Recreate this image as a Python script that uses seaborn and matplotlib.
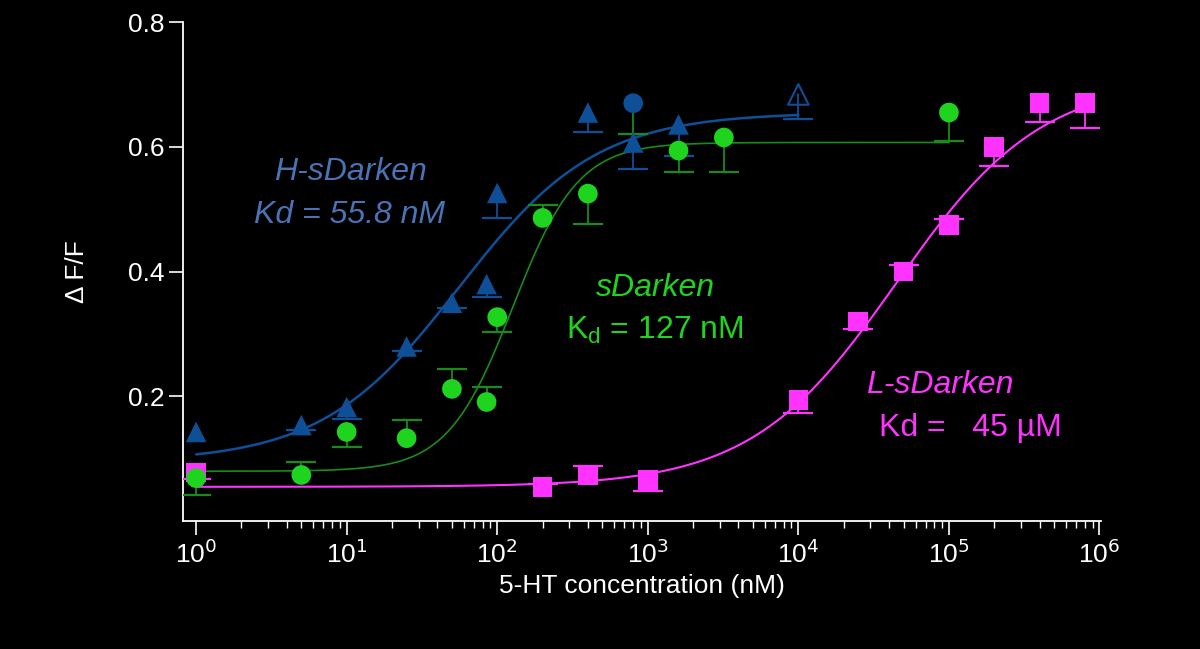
import numpy as np
import pandas as pd
import matplotlib
matplotlib.use("Agg")
import matplotlib.pyplot as plt
from matplotlib.ticker import NullFormatter, FixedLocator, LogLocator
import seaborn as sns

# H-sDarken (filled triangles)
h_x = [1, 5, 10, 25, 50, 85, 100, 400, 800, 1600]
h_y = [0.143, 0.154, 0.183, 0.28, 0.35, 0.38, 0.526, 0.655, 0.607, 0.636]
h_err = [0.0, 0.008, 0.02, 0.008, 0.008, 0.02, 0.04, 0.032, 0.042, 0.05]
h_open_x = [10000]
h_open_y = [0.684]
h_open_err = [0.04]
h_circ_x = [800]
h_circ_y = [0.67]
h_circ_err = [0.05]

# sDarken (circles)
g_x = [1, 5, 10, 25, 50, 85, 100, 200, 400, 1600, 3200, 100000]
g_y = [0.069, 0.074, 0.143, 0.133, 0.212, 0.191, 0.327, 0.486, 0.525, 0.594, 0.615, 0.655]
g_err = [-0.027, 0.021, -0.024, 0.029, 0.032, 0.024, -0.024, 0.021, -0.048, -0.035, -0.055, -0.045]

# L-sDarken (squares)
m_x = [1, 200, 400, 1000, 10000, 25000, 50000, 100000, 200000, 400000, 800000]
m_y = [0.078, 0.055, 0.074, 0.066, 0.194, 0.32, 0.40, 0.475, 0.60, 0.67, 0.67]
m_err = [-0.01, 0.005, 0.015, -0.018, -0.02, -0.012, 0.01, 0.01, -0.03, -0.03, -0.04]

# Hill fit parameters: bottom, top, Kd, n, x range
h_fit = (0.095, 0.655, 55.8, 0.95, 1, 10000)
g_fit = (0.08, 0.607, 127, 2.0, 1, 100000)
m_fit = (0.055, 0.71, 45000, 0.9, 1, 800000)

blue = "#0f4f98"
green = "#1ed41e"
dgreen = "#1a8a1a"
magenta = "#ff33ff"

sns.set_theme(style="dark", rc={
    "figure.facecolor": "black", "axes.facecolor": "black",
    "axes.edgecolor": "white", "text.color": "white",
    "xtick.color": "white", "ytick.color": "white",
    "axes.labelcolor": "white", "axes.grid": False,
})
plt.rcParams['font.family'] = ['Liberation Sans', 'DejaVu Sans']

fig = plt.figure(figsize=(12, 6.49), dpi=100)
ax = fig.add_axes([0.1525, 0.197, 0.765, 0.769])


def hill_curve(p):
    b, t, kd, n, x0, x1 = p
    xs = np.logspace(np.log10(x0), np.log10(x1), 300)
    return pd.DataFrame({"x": xs, "y": b + (t - b) * xs**n / (kd**n + xs**n)})


sns.lineplot(data=hill_curve(h_fit), x="x", y="y", ax=ax, color=blue, lw=1.8)
sns.lineplot(data=hill_curve(g_fit), x="x", y="y", ax=ax, color=dgreen, lw=1.2)
sns.lineplot(data=hill_curve(m_fit), x="x", y="y", ax=ax, color=magenta, lw=1.5)

ax.set_xscale("log")


def errs(x, y, e, c):
    # one-sided error bars: negative = downward
    for xi, yi, ei in zip(x, y, e):
        if ei == 0:
            continue
        ax.plot([xi, xi], [yi, yi + ei], color=c, lw=1.3, zorder=3)
        ax.plot([xi], [yi + ei], marker="_", markersize=22, mew=1.6, color=c, zorder=3)


errs(g_x, g_y, g_err, dgreen)
errs(m_x, m_y, m_err, magenta)
errs(h_x, h_y, [-e for e in h_err], blue)
errs(h_open_x, h_open_y, [-e for e in h_open_err], blue)
errs(h_circ_x, h_circ_y, [-e for e in h_circ_err], dgreen)

sns.scatterplot(x=m_x, y=m_y, ax=ax, marker="s", s=200, color=magenta, edgecolor="none", zorder=4)
sns.scatterplot(x=g_x, y=g_y, ax=ax, marker="o", s=200, color=green, edgecolor="none", zorder=5)
sns.scatterplot(x=h_x, y=h_y, ax=ax, marker="^", s=220, color=blue, edgecolor="none", zorder=6)
sns.scatterplot(x=h_circ_x, y=h_circ_y, ax=ax, marker="o", s=200, color=blue, edgecolor="none", zorder=6)
ax.scatter(h_open_x, h_open_y, marker="^", s=220, facecolor="none", edgecolor=blue, linewidth=1.5, zorder=6)

ax.set_xlim(10**-0.087, 10**6.01)
ax.set_ylim(0, 0.8)
ax.yaxis.set_major_locator(FixedLocator([0.2, 0.4, 0.6, 0.8]))
ax.set_yticklabels(["0.2", "0.4", "0.6", "0.8"])
decades = [10.0**k for k in range(7)]
ax.xaxis.set_major_locator(FixedLocator(decades))
ax.set_xticklabels([f"10$^{{{k}}}$" for k in range(7)])
ax.xaxis.set_minor_locator(FixedLocator([m * d for d in decades[:-1] for m in range(2, 10)]))
ax.xaxis.set_minor_formatter(NullFormatter())
ax.tick_params(axis="both", which="major", direction="out", length=10, width=1.2,
               labelsize=19, colors="white", bottom=True, left=True)
ax.tick_params(axis="x", which="minor", direction="out", length=5, width=1, colors="white", bottom=True)
for s in ["top", "right"]:
    ax.spines[s].set_visible(False)
for s in ["left", "bottom"]:
    ax.spines[s].set_color("white")
    ax.spines[s].set_linewidth(1.3)

ax.set_xlabel("5-HT concentration (nM)", fontsize=19, labelpad=4)
ax.set_ylabel("Δ F/F", fontsize=19, labelpad=28)

ft = 23
fig.text(350 / 1200, 1 - 172 / 649, "H-sDarken", color="#4a73b5", fontsize=ft, style="italic", ha="center", va="center")
fig.text(350 / 1200, 1 - 215 / 649, "Kd = 55.8 nM", color="#4a73b5", fontsize=ft, style="italic", ha="center", va="center")
fig.text(655 / 1200, 1 - 288 / 649, "sDarken", color=green, fontsize=ft, style="italic", ha="center", va="center")
fig.text(655 / 1200, 1 - 330 / 649, "K$_\\mathregular{d}$ = 127 nM", color=green, fontsize=ft, ha="center", va="center")
fig.text(940 / 1200, 1 - 385 / 649, "L-sDarken", color=magenta, fontsize=ft, style="italic", ha="center", va="center")
fig.text(970 / 1200, 1 - 428 / 649, "Kd =   45 µM", color=magenta, fontsize=ft, ha="center", va="center")

fig.savefig("out.png", dpi=100, facecolor="black")
